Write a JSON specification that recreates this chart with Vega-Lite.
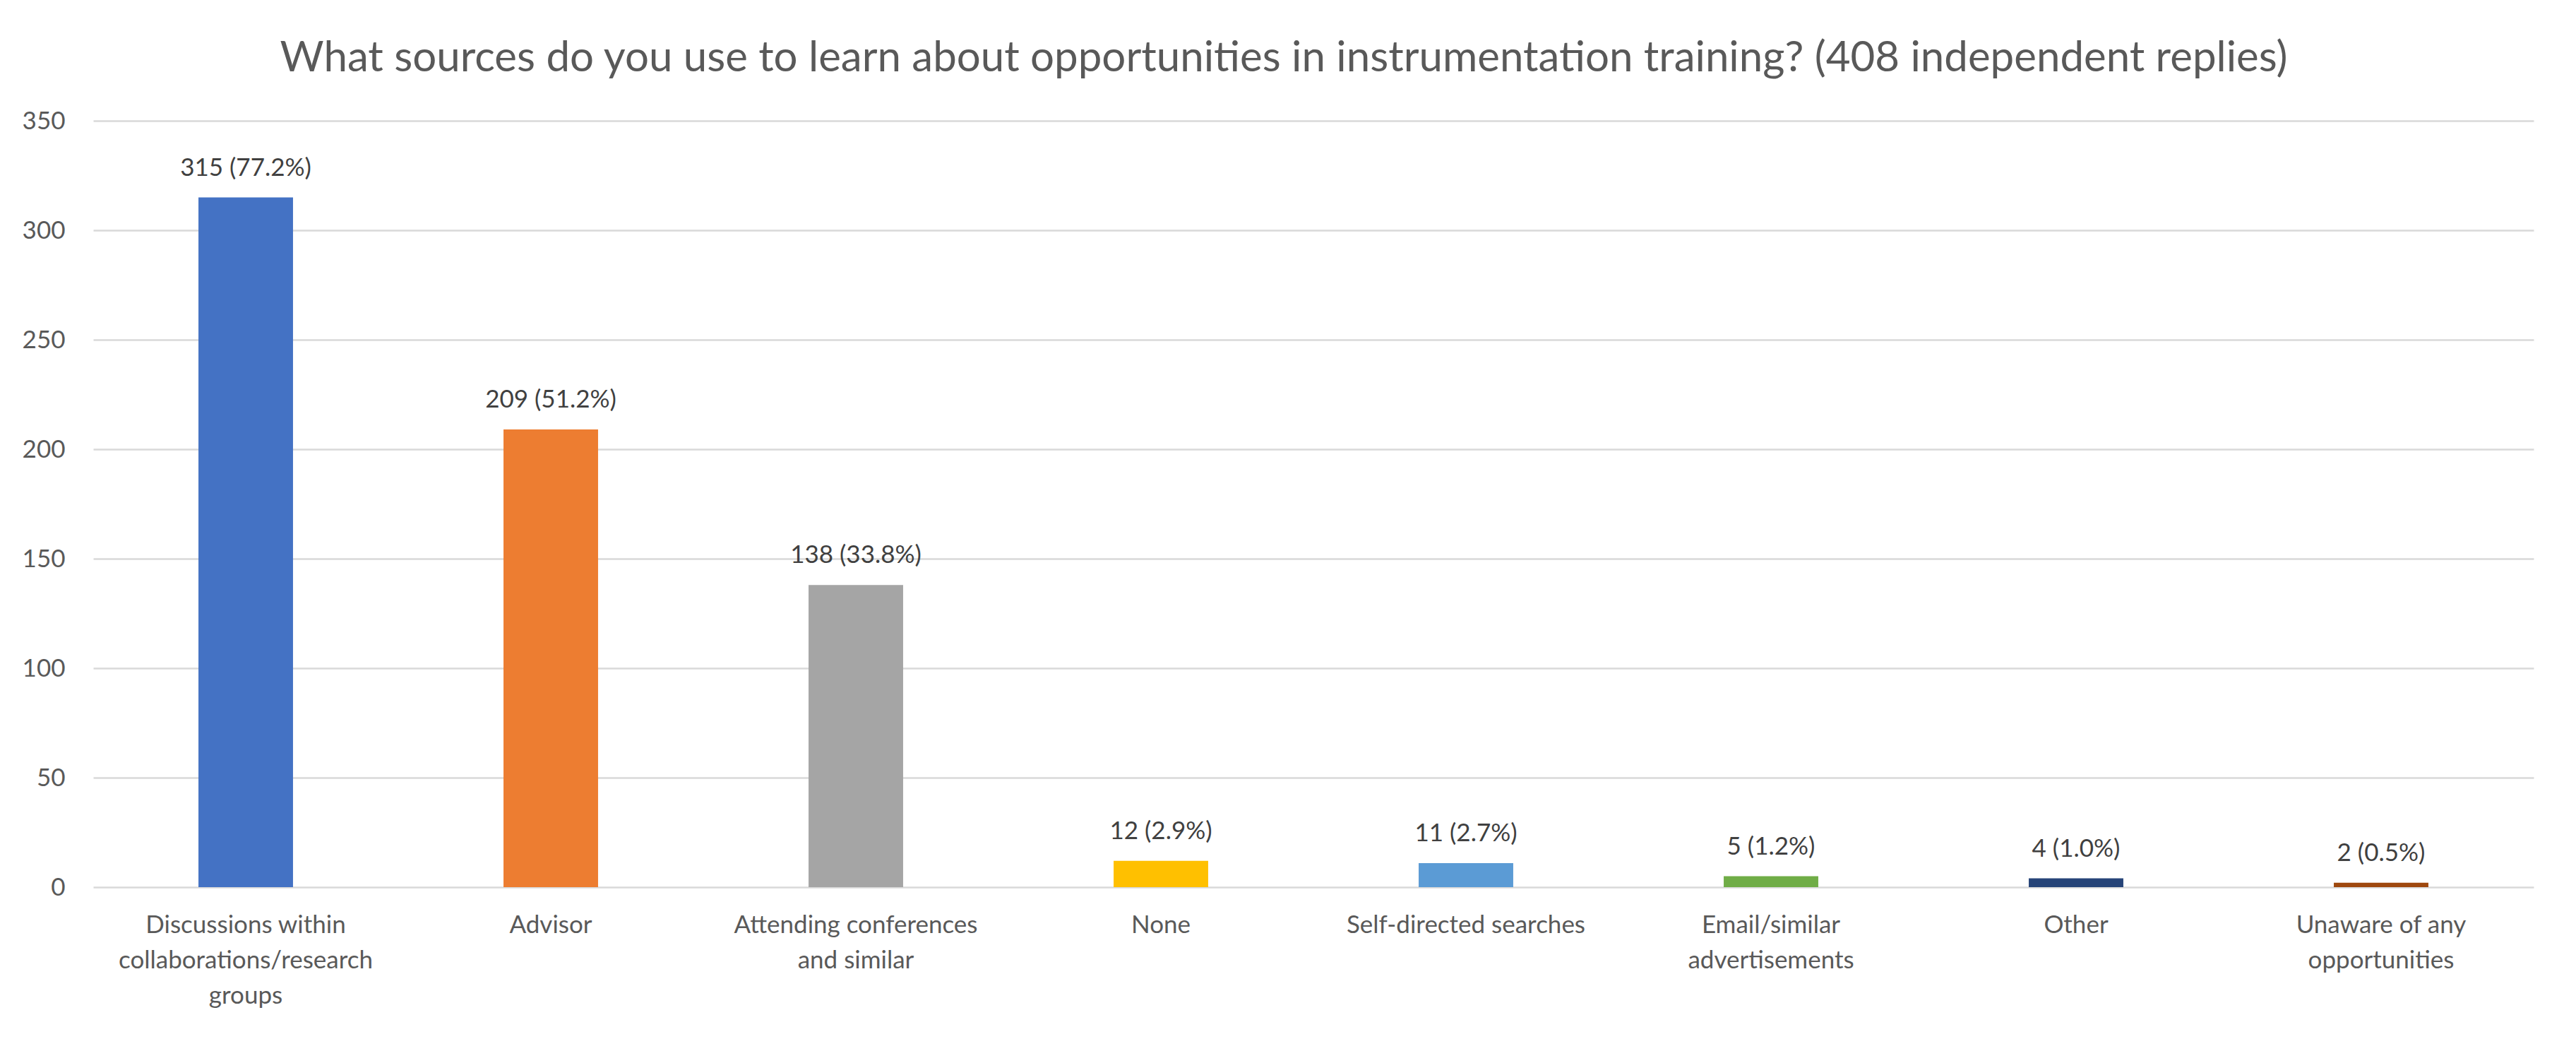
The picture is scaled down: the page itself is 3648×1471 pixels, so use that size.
{
  "$schema": "https://vega.github.io/schema/vega-lite/v6.json",
  "autosize": "none",
  "width": 3456,
  "height": 1085,
  "padding": {"left": 132, "top": 171, "right": 60, "bottom": 215},
  "background": "white",
  "title": {
    "text": "What sources do you use to learn about opportunities in instrumentation training? (408 independent replies)",
    "font": "Lato",
    "fontSize": 60,
    "fontWeight": "normal",
    "color": "#595959",
    "anchor": "middle",
    "frame": "group",
    "baseline": "alphabetic",
    "offset": -7,
    "dx": -42
  },
  "data": {
    "values": [
      {"source": "Discussions within collaborations/research groups", "count": 315, "label": "315 (77.2%)"},
      {"source": "Advisor", "count": 209, "label": "209 (51.2%)"},
      {"source": "Attending conferences and similar", "count": 138, "label": "138 (33.8%)"},
      {"source": "None", "count": 12, "label": "12 (2.9%)"},
      {"source": "Self-directed searches", "count": 11, "label": "11 (2.7%)"},
      {"source": "Email/similar advertisements", "count": 5, "label": "5 (1.2%)"},
      {"source": "Other", "count": 4, "label": "4 (1.0%)"},
      {"source": "Unaware of any opportunities", "count": 2, "label": "2 (0.5%)"}
    ]
  },
  "encoding": {
    "x": {
      "field": "source",
      "type": "nominal",
      "sort": null,
      "scale": {"paddingInner": 0.69, "paddingOuter": 0.345},
      "axis": {
        "title": null,
        "labelAngle": 0,
        "labelFont": "Lato",
        "labelFontSize": 35,
        "labelColor": "#595959",
        "labelLineHeight": 50,
        "labelPadding": 36,
        "labelLimit": 0,
        "ticks": false,
        "domain": false,
        "labelExpr": "datum.value == 'Discussions within collaborations/research groups' ? ['Discussions within', 'collaborations/research', 'groups'] : datum.value == 'Attending conferences and similar' ? ['Attending conferences', 'and similar'] : datum.value == 'Email/similar advertisements' ? ['Email/similar', 'advertisements'] : datum.value == 'Unaware of any opportunities' ? ['Unaware of any', 'opportunities'] : datum.value"
      }
    },
    "y": {
      "field": "count",
      "type": "quantitative",
      "scale": {"domain": [0, 350], "nice": false},
      "axis": {
        "title": null,
        "values": [0, 50, 100, 150, 200, 250, 300, 350],
        "labelFont": "Lato",
        "labelFontSize": 35,
        "labelColor": "#595959",
        "labelPadding": 40,
        "ticks": false,
        "domain": false,
        "grid": true,
        "gridColor": "#D9D9D9",
        "gridWidth": 2.5
      }
    }
  },
  "layer": [
    {
      "mark": {"type": "bar"},
      "encoding": {
        "color": {
          "field": "source",
          "type": "nominal",
          "sort": null,
          "legend": null,
          "scale": {
            "domain": ["Discussions within collaborations/research groups", "Advisor", "Attending conferences and similar", "None", "Self-directed searches", "Email/similar advertisements", "Other", "Unaware of any opportunities"],
            "range": ["#4472C4", "#ED7D31", "#A5A5A5", "#FFC000", "#5B9BD5", "#70AD47", "#264478", "#9E480E"]
          }
        }
      }
    },
    {
      "mark": {"type": "text", "font": "Lato", "fontSize": 35, "color": "#404040", "baseline": "alphabetic", "dy": -31},
      "encoding": {"text": {"field": "label"}}
    }
  ],
  "config": {"view": {"stroke": null}}
}
